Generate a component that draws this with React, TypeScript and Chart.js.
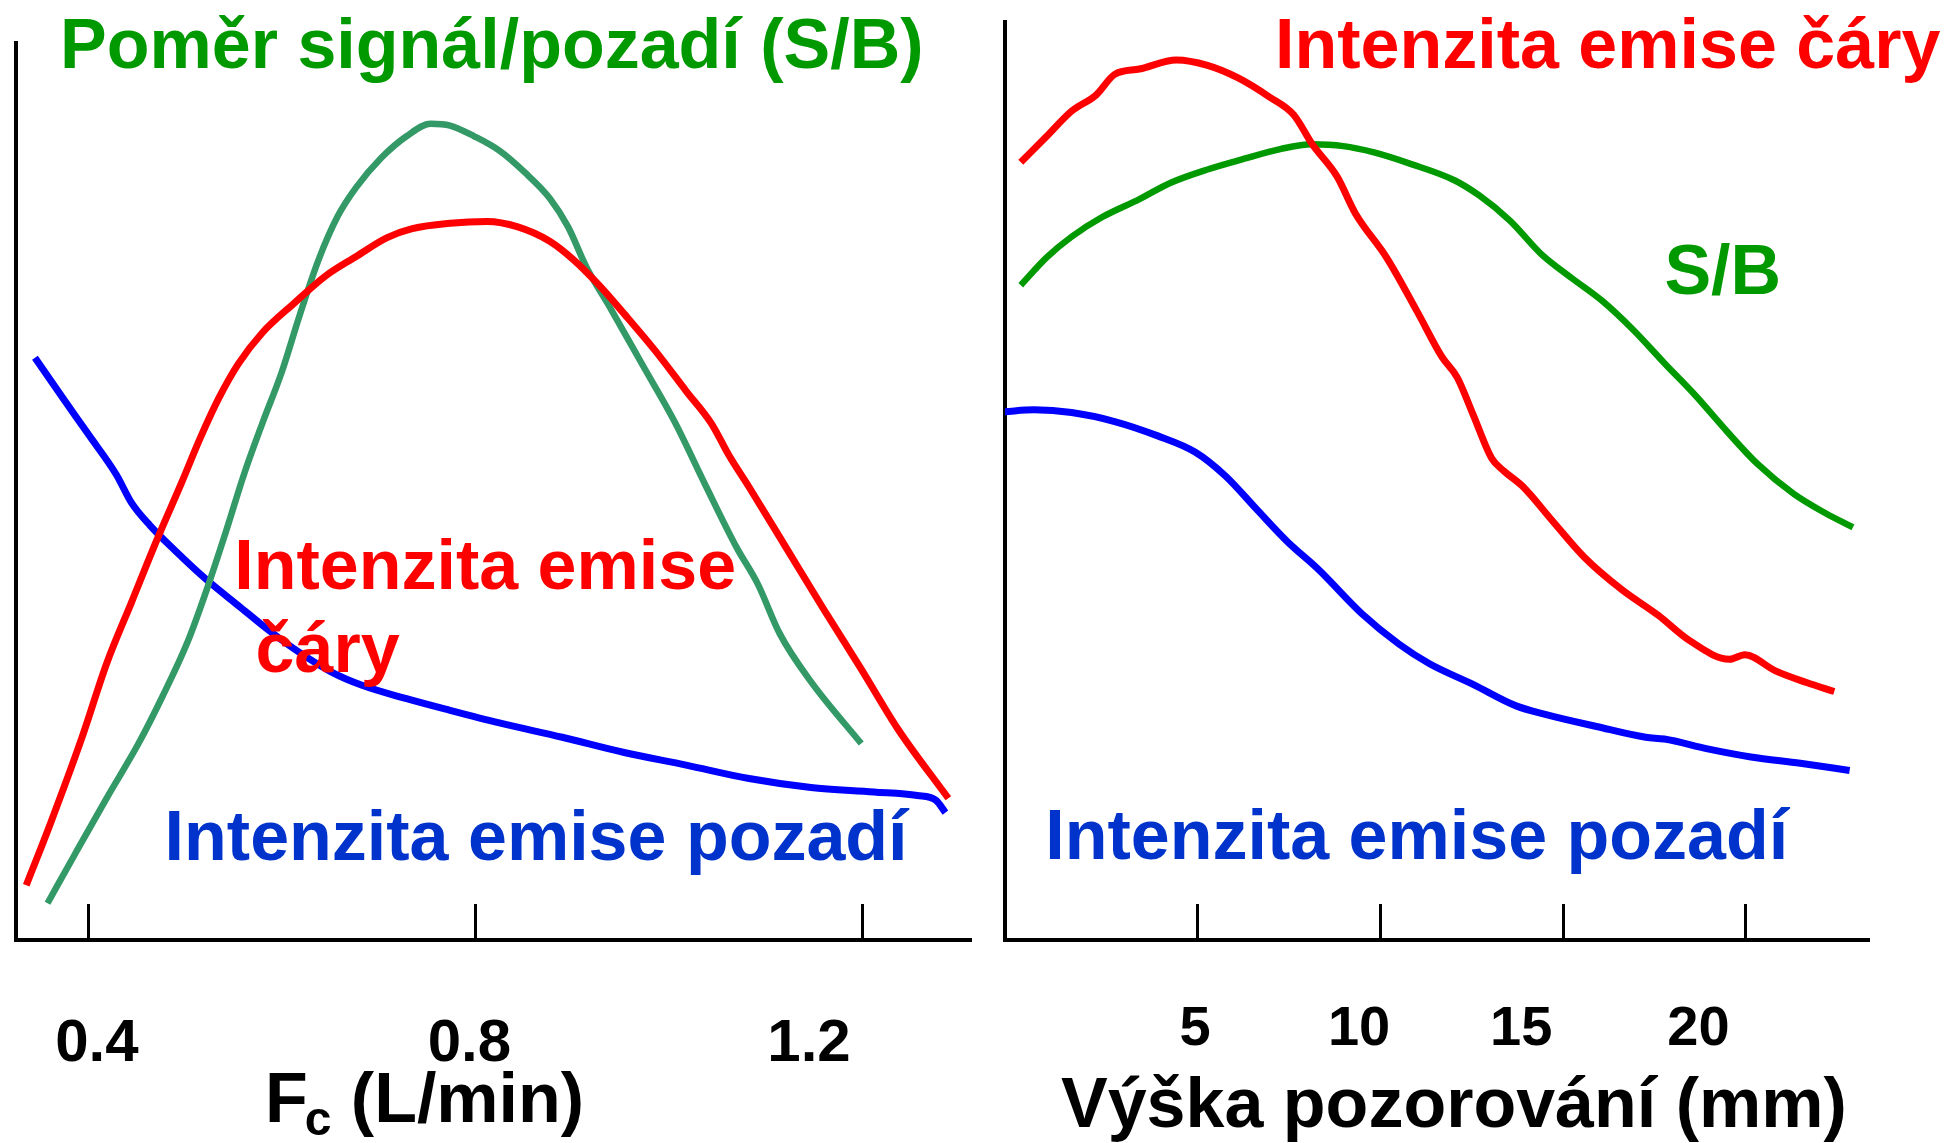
import React, { useEffect, useRef } from "react";
import { Chart, registerables } from "chart.js";

Chart.register(...registerables);

const FONT = '"Liberation Sans", Arial, Helvetica, sans-serif';

// ---------------- Left panel: Fc (L/min) ----------------
const LEFT_LINE_FC = [0.336, 0.361, 0.394, 0.419, 0.445, 0.471, 0.497, 0.516, 0.535, 0.555, 0.58, 0.613, 0.645, 0.677, 0.709, 0.735, 0.774, 0.812, 0.844, 0.877, 0.902, 0.928, 0.954, 0.986, 1.018, 1.044, 1.063, 1.083, 1.121, 1.16, 1.199, 1.237, 1.289];
const LEFT_LINE_I = [6.1, 13.0, 22.7, 30.8, 37.7, 44.6, 51.1, 56.0, 60.4, 64.2, 67.7, 71.0, 74.0, 76.2, 78.3, 79.3, 79.9, 80.1, 79.5, 77.9, 75.8, 73.0, 69.8, 65.7, 61.2, 57.6, 53.9, 50.5, 43.8, 36.9, 30.2, 23.5, 15.8];

const LEFT_SB_FC = [0.358, 0.387, 0.419, 0.452, 0.477, 0.503, 0.522, 0.542, 0.561, 0.58, 0.6, 0.619, 0.638, 0.658, 0.677, 0.703, 0.729, 0.754, 0.774, 0.799, 0.825, 0.851, 0.877, 0.896, 0.915, 0.941, 0.973, 1.006, 1.038, 1.07, 1.092, 1.115, 1.147, 1.199];
const LEFT_SB = [4.1, 9.7, 15.8, 21.9, 27.2, 33.3, 38.9, 45.4, 51.9, 57.6, 63.3, 69.8, 75.8, 80.7, 83.9, 87.2, 89.6, 91.0, 90.8, 89.6, 88.0, 85.6, 82.7, 79.5, 75.0, 70.2, 64.1, 57.8, 50.7, 43.8, 39.7, 34.1, 28.8, 21.9];

const LEFT_BG_FC = [0.345, 0.374, 0.4, 0.429, 0.445, 0.464, 0.49, 0.522, 0.555, 0.587, 0.619, 0.651, 0.683, 0.729, 0.774, 0.825, 0.89, 0.954, 1.018, 1.083, 1.147, 1.212, 1.257, 1.276, 1.286];
const LEFT_BG = [64.9, 60.4, 56.4, 51.9, 48.7, 46.2, 43.4, 40.2, 37.3, 34.5, 32.0, 29.9, 28.4, 26.9, 25.6, 24.2, 22.6, 20.9, 19.5, 18.0, 17.0, 16.5, 16.1, 15.6, 14.2];

const LEFT_TICKS = [0.4, 0.8, 1.2];
const LEFT_TICK_LABELS = ["0.4", "0.8", "1.2"];
const LEFT_LABEL_AT = [0.409, 0.794, 1.145];

const LEFT_NOTES = [
  { text: "Poměr signál/pozadí (S/B)", x: 0.371, y: 97.2, color: "#009900" },
  { text: "Intenzita emise", x: 0.551, y: 39.1, color: "#ff0000" },
  { text: "čáry", x: 0.573, y: 29.9, color: "#ff0000" },
  { text: "Intenzita emise pozadí", x: 0.479, y: 8.9, color: "#0033cc" },
];

// ---------------- Right panel: height (mm) ----------------
const RIGHT_LINE_H = [0.15, 0.86, 1.54, 2.21, 2.72, 3.4, 4.41, 5.26, 6.1, 6.95, 7.62, 8.13, 8.81, 9.31, 10.16, 11.01, 11.68, 12.1, 12.53, 13.04, 13.37, 13.88, 14.73, 15.57, 16.59, 17.6, 18.45, 19.55, 19.97, 20.81, 21.66, 22.42];
const RIGHT_LINE_I = [86.7, 89.6, 92.4, 94.2, 96.5, 97.1, 98.1, 97.5, 96.1, 94.0, 92.0, 88.7, 85.1, 81.0, 76.1, 70.0, 65.0, 62.7, 58.6, 53.7, 52.3, 50.6, 46.6, 42.7, 39.1, 36.2, 33.4, 31.3, 31.8, 30.0, 28.7, 27.7];

const RIGHT_SB_H = [0.15, 0.86, 1.54, 2.38, 3.4, 4.24, 5.26, 6.27, 7.28, 8.13, 8.98, 9.82, 10.84, 12.02, 12.7, 13.54, 14.39, 15.23, 16.08, 16.92, 17.77, 18.62, 19.46, 20.31, 21.32, 22.17, 22.93];
const RIGHT_SB = [73.0, 76.1, 78.4, 80.6, 82.6, 84.4, 85.9, 87.1, 88.2, 88.7, 88.5, 87.8, 86.5, 84.7, 83.0, 80.2, 76.5, 73.8, 71.2, 68.0, 64.3, 60.7, 56.8, 53.1, 49.7, 47.6, 46.0];

const RIGHT_BG_H = [-0.3, 0.52, 1.54, 2.72, 3.9, 4.92, 5.76, 6.61, 7.45, 8.3, 9.48, 10.5, 11.34, 12.53, 13.71, 14.56, 15.91, 17.26, 17.77, 18.95, 20.14, 21.49, 22.84];
const RIGHT_BG = [58.9, 59.1, 58.8, 57.8, 56.2, 54.4, 51.7, 48.0, 44.4, 41.3, 36.4, 33.0, 30.8, 28.5, 26.1, 25.1, 23.8, 22.6, 22.4, 21.3, 20.4, 19.7, 18.9];

const RIGHT_TICKS = [5, 10, 15, 20];
const RIGHT_TICK_LABELS = ["5", "10", "15", "20"];
const RIGHT_LABEL_AT = [4.92, 9.41, 13.85, 18.7];

const RIGHT_NOTES = [
  { text: "Intenzita emise čáry", x: 7.11, y: 97.2, color: "#ff0000" },
  { text: "S/B", x: 17.77, y: 72.0, color: "#009900" },
  { text: "Intenzita emise pozadí", x: 0.82, y: 9.0, color: "#0033cc" },
];

const LEFT_AXIS_TITLE = { main: "F", sub: "c", rest: " (L/min)", at: 0.5827 };
const RIGHT_AXIS_TITLE = { main: "Výška pozorování (mm)", at: 1.251 };

const pts = (xs: number[], ys: number[]) => xs.map((x, i) => ({ x, y: ys[i] }));

function makeTextPlugin(cfg: any) {
  return {
    id: "panelText",
    afterDraw(chart: any) {
      const { ctx, chartArea } = chart;
      const xs = chart.scales.x;
      const ys = chart.scales.y;
      ctx.save();
      // tick labels
      ctx.fillStyle = "#000";
      ctx.textAlign = "center";
      ctx.textBaseline = "alphabetic";
      ctx.font = `bold ${cfg.tickSize}px ${FONT}`;
      cfg.labelAt.forEach((v: number, i: number) => {
        ctx.fillText(cfg.labels[i], xs.getPixelForValue(v), chartArea.bottom + cfg.tickBaseline);
      });
      // axis title
      ctx.textAlign = "left";
      const tb = chartArea.bottom + cfg.titleBaseline;
      let tx = xs.getPixelForValue(cfg.title.at);
      ctx.font = `bold ${cfg.titleSize}px ${FONT}`;
      ctx.fillText(cfg.title.main, tx, tb);
      if (cfg.title.sub) {
        tx += ctx.measureText(cfg.title.main).width;
        ctx.font = `bold ${cfg.subSize}px ${FONT}`;
        ctx.fillText(cfg.title.sub, tx - 3, tb + 13);
        tx += ctx.measureText(cfg.title.sub).width - 3;
        ctx.font = `bold ${cfg.titleSize}px ${FONT}`;
        ctx.fillText(cfg.title.rest, tx, tb);
      }
      // notes
      ctx.font = `bold 70px ${FONT}`;
      cfg.notes.forEach((n: any) => {
        ctx.fillStyle = n.color;
        ctx.fillText(n.text, xs.getPixelForValue(n.x), ys.getPixelForValue(n.y));
      });
      ctx.restore();
    },
  };
}

function lineDs(data: any[], color: string, width: number) {
  return {
    data,
    borderColor: color,
    backgroundColor: color,
    borderWidth: width,
    pointRadius: 0,
    cubicInterpolationMode: "monotone" as const,
    fill: false,
    borderJoinStyle: "round" as const,
  };
}

function makeConfig(p: any) {
  return {
    type: "line" as const,
    data: { datasets: p.datasets },
    options: {
      responsive: false,
      animation: false as const,
      layout: { padding: p.padding },
      plugins: { legend: { display: false }, tooltip: { enabled: false }, title: { display: false } },
      scales: {
        x: {
          type: "linear" as const,
          position: "bottom" as const,
          min: p.xMin,
          max: p.xMax,
          afterBuildTicks: (s: any) => {
            s.ticks = p.ticks.map((v: number) => ({ value: v }));
          },
          border: { display: true, color: "#000", width: 4 },
          grid: { display: true, drawOnChartArea: false, drawTicks: true, tickLength: -36, color: "#000", lineWidth: 3 },
          ticks: { display: false },
          title: { display: false },
        },
        y: {
          type: "linear" as const,
          position: "left" as const,
          min: 0,
          max: p.yMax,
          border: { display: true, color: "#000", width: 4 },
          grid: { display: false, drawTicks: false },
          ticks: { display: false },
          title: { display: false },
        },
      },
    },
    plugins: [makeTextPlugin(p.text)],
  };
}

export default function App() {
  const leftRef = useRef<HTMLCanvasElement | null>(null);
  const rightRef = useRef<HTMLCanvasElement | null>(null);

  useEffect(() => {
    const left = new Chart(leftRef.current as HTMLCanvasElement, makeConfig({
      datasets: [
        lineDs(pts(LEFT_LINE_FC, LEFT_LINE_I), "#ff0000", 7),
        lineDs(pts(LEFT_SB_FC, LEFT_SB), "#339966", 6.5),
        lineDs(pts(LEFT_BG_FC, LEFT_BG), "#0000ff", 7),
      ],
      padding: { left: 16, right: 20, top: 43, bottom: 203 },
      xMin: 0.3254,
      xMax: 1.3114,
      yMax: 100,
      ticks: LEFT_TICKS,
      text: {
        labels: LEFT_TICK_LABELS,
        labelAt: LEFT_LABEL_AT,
        tickSize: 60,
        tickBaseline: 121,
        title: LEFT_AXIS_TITLE,
        titleSize: 70,
        subSize: 48,
        titleBaseline: 182,
        notes: LEFT_NOTES,
      },
    }) as any);

    const right = new Chart(rightRef.current as HTMLCanvasElement, makeConfig({
      datasets: [
        lineDs(pts(RIGHT_LINE_H, RIGHT_LINE_I), "#ff0000", 7),
        lineDs(pts(RIGHT_SB_H, RIGHT_SB), "#009900", 6.5),
        lineDs(pts(RIGHT_BG_H, RIGHT_BG), "#0000ff", 7),
      ],
      padding: { left: 15, right: 78, top: 22, bottom: 203 },
      xMin: -0.282,
      xMax: 23.343,
      yMax: 102.34,
      ticks: RIGHT_TICKS,
      text: {
        labels: RIGHT_TICK_LABELS,
        labelAt: RIGHT_LABEL_AT,
        tickSize: 56,
        tickBaseline: 105,
        title: RIGHT_AXIS_TITLE,
        titleSize: 70,
        subSize: 48,
        titleBaseline: 187,
        notes: RIGHT_NOTES,
      },
    }) as any);

    return () => {
      left.destroy();
      right.destroy();
    };
  }, []);

  return (
    <div style={{ position: "absolute", left: 0, top: 0, width: 1946, height: 1143, background: "#fff", overflow: "hidden" }}>
      <canvas ref={leftRef} width={990} height={1143} style={{ position: "absolute", left: 0, top: 0, width: 990, height: 1143 }} />
      <canvas ref={rightRef} width={956} height={1143} style={{ position: "absolute", left: 990, top: 0, width: 956, height: 1143 }} />
    </div>
  );
}
